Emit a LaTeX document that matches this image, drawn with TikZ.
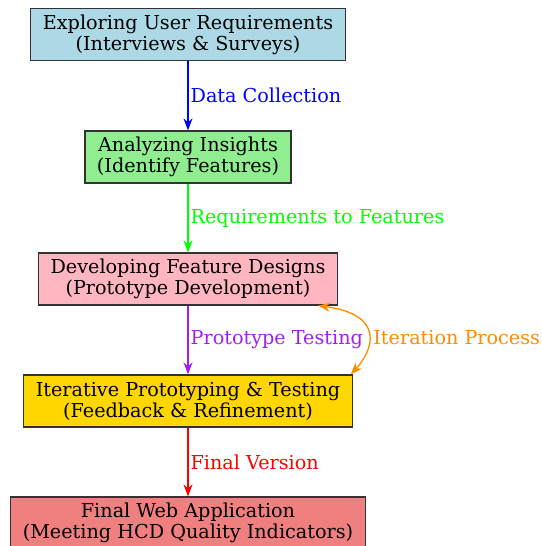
\documentclass[tikz,border=0pt]{standalone}
\usepackage{fontspec}
\setmainfont{DejaVu Serif}
\usetikzlibrary{arrows.meta}

\definecolor{stageblue}{RGB}{173,216,230}
\definecolor{stagegreen}{RGB}{144,238,144}
\definecolor{stagepink}{RGB}{255,182,193}
\definecolor{stagegold}{RGB}{255,215,0}
\definecolor{stagecoral}{RGB}{240,128,128}
\definecolor{flowgreen}{RGB}{0,255,0}
\definecolor{flowpurple}{RGB}{160,32,240}
\definecolor{floworange}{RGB}{255,140,0}

\tikzset{
  stagebox/.style={draw=black!80, line width=0.6pt, align=center,
    font=\fontsize{9.6}{10.5}\selectfont, inner xsep=6pt, inner ysep=3pt,
    minimum height=26pt},
  flow/.style={-{Stealth[length=6pt,width=4.5pt]}, line width=0.65pt},
  flowlabel/.style={font=\fontsize{9.6}{10.5}\selectfont, anchor=west, inner sep=1pt}
}

\begin{document}
\begin{tikzpicture}[x=0.5pt,y=-0.5pt]
    \useasboundingbox (0,0) rectangle (541,546);

    % stages of the process
    \node[stagebox, fill=stageblue] (explore) at (188,34.5) {Exploring User Requirements\\(Interviews \& Surveys)};
    \node[stagebox, fill=stagegreen] (analyze) at (188,157) {Analyzing Insights\\(Identify Features)};
    \node[stagebox, fill=stagepink] (develop) at (188,279) {Developing Feature Designs\\(Prototype Development)};
    \node[stagebox, fill=stagegold] (iterate) at (188,401) {Iterative Prototyping \& Testing\\(Feedback \& Refinement)};
    \node[stagebox, fill=stagecoral] (final) at (188,523) {Final Web Application\\(Meeting HCD Quality Indicators)};

    % main flow
    \draw[flow, blue] (explore) -- node[flowlabel, text=blue] {Data Collection} (analyze);
    \draw[flow, flowgreen] (analyze) -- node[flowlabel, text=flowgreen] {Requirements to Features} (develop);
    \draw[flow, flowpurple] (develop) -- node[flowlabel, text=flowpurple] {Prototype Testing} (iterate);
    \draw[flow, red] (iterate) -- node[flowlabel, text=red] {Final Version} (final);

    % feedback loop
    \coordinate (loopstart) at ([xshift=-1pt]iterate.north east);
    \coordinate (loopend) at ([xshift=-10pt]develop.south east);
    \draw[flow, floworange, {Stealth[length=6pt,width=4.5pt]}-{Stealth[length=6pt,width=4.5pt]}]
      (loopstart) .. controls +(23,-25) and +(67,9) .. (loopend);
    \node[flowlabel, text=floworange] (looplabel) at (371,338) {Iteration Process};
\end{tikzpicture}
\end{document}
